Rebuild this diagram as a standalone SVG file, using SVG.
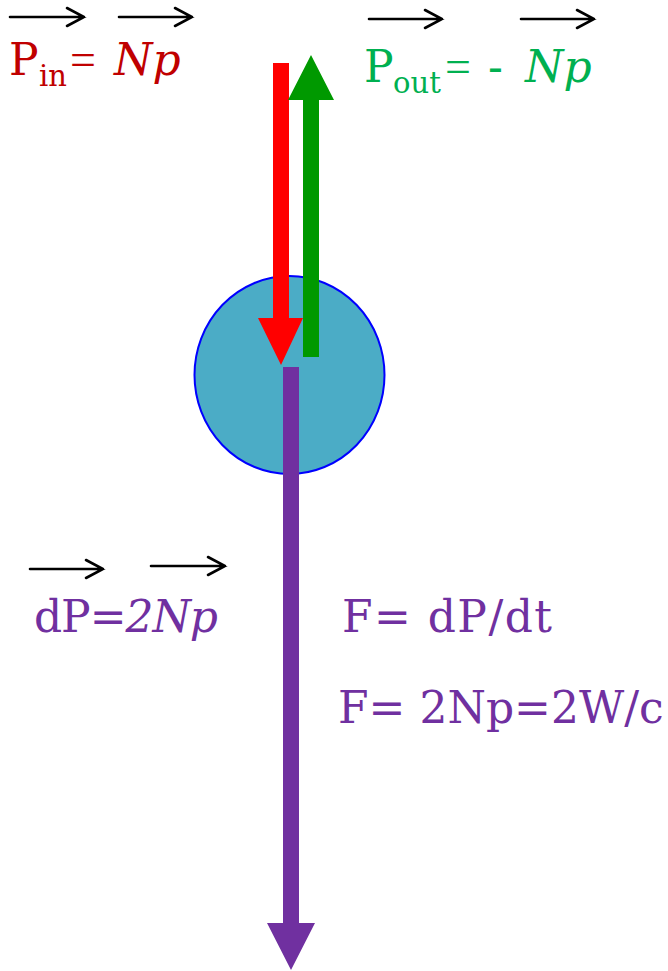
<svg xmlns="http://www.w3.org/2000/svg" width="668" height="971" viewBox="0 0 668 971">
<defs>
<style>
.t{font-family:"DejaVu Serif","Liberation Serif",serif;font-size:44px}
.s{font-size:29px}
.i{font-style:italic}
.eq{font-family:"Liberation Serif","DejaVu Serif",serif;font-size:46px}
.vec{stroke:#000;stroke-width:2.6;fill:none;stroke-linecap:round;stroke-linejoin:miter}
.red{fill:#C00000}
.grn{fill:#00B050}
.pur{fill:#7030A0}
</style>
</defs>
<rect width="668" height="971" fill="#fff"/>
<g id="particle">
<ellipse cx="289.5" cy="375" rx="95" ry="99" fill="#4BACC6" stroke="#0000FF" stroke-width="2"/>
</g>
<g id="connectors">
<polygon id="arrow-in" points="273,63 289,63 289,318 303,318 281,365 258,318 273,318" fill="#FF0000"/>
<polygon id="arrow-out" points="303,357 319,357 319,100 334,100 311,55 288,100 303,100" fill="#009900"/>
<polygon id="arrow-force" points="283,367 299,367 299,923 315,923 291,970 267,923 283,923" fill="#7030A0"/>
</g>
<g id="vectors">
<path class="vec" d="M10,17 H84 M67,8 L84,17 L67,26"/>
<path class="vec" d="M119,17 H192 M175,8 L192,17 L175,26"/>
<path class="vec" d="M369,19 H442 M425,10 L442,19 L425,28"/>
<path class="vec" d="M521,19 H594 M577,10 L594,19 L577,28"/>
<path class="vec" d="M30,569 H103 M86,560 L103,569 L86,578"/>
<path class="vec" d="M151,566 H225 M208,557 L225,566 L208,575"/>
</g>
<g id="label-pin" class="red">
<text class="t" x="9" y="75">P</text>
<text class="t s" x="39" y="86">in</text>
<text class="eq" x="70" y="75">=</text>
<text class="t i" x="114" y="75">Np</text>
</g>
<g id="label-pout" class="grn">
<text class="t" x="364" y="82">P</text>
<text class="t s" x="393" y="93">out</text>
<text class="eq" x="445" y="82">=</text>
<text class="t" x="488" y="82">-</text>
<text class="t i" x="525" y="82">Np</text>
</g>
<g id="label-dp" class="pur">
<text class="t" x="34" y="632" textLength="184" lengthAdjust="spacing">dP=<tspan class="i">2Np</tspan></text>
</g>
<g id="label-f1" class="pur">
<text class="t" x="342" y="632" textLength="210" lengthAdjust="spacing">F= dP/dt</text>
</g>
<g id="label-f2" class="pur">
<text class="t" x="338" y="723">F= 2Np=2W/c</text>
</g>
</svg>
